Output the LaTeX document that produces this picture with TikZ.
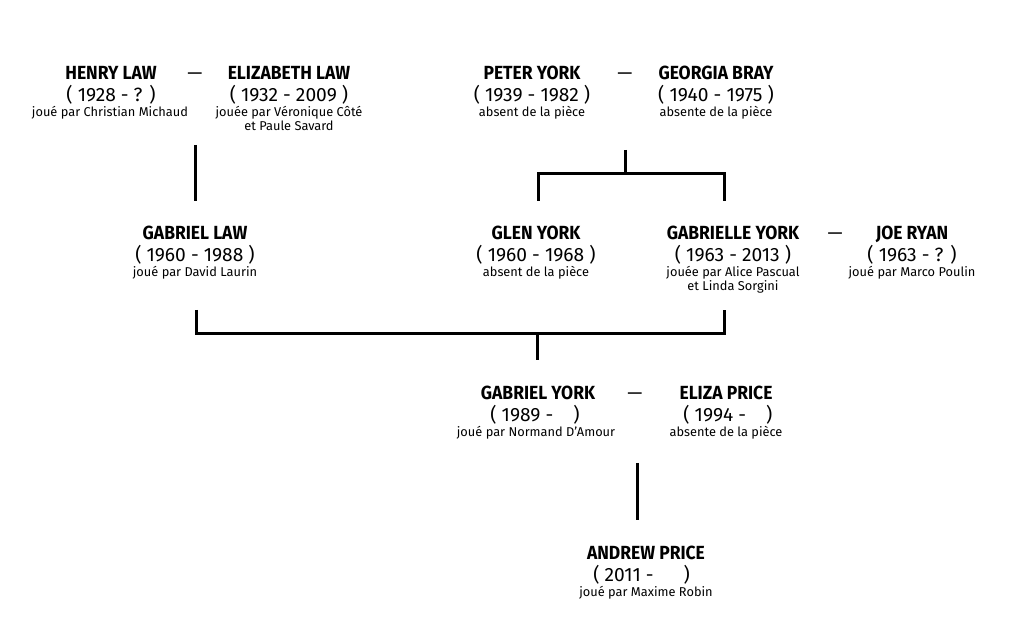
\documentclass[tikz,border=0pt]{standalone}
\usepackage{fontspec}
\setmainfont{Fira Sans}
\newfontfamily\namefont{Fira Sans}[FakeStretch=0.92,UprightFont=* Bold]
\begin{document}
\begin{tikzpicture}[x=0.5pt,y=-0.5pt,
  pname/.style={anchor=base,font=\namefont\fontsize{9.5}{10}\selectfont,inner sep=0pt},
  pyear/.style={anchor=base,font=\fontsize{9.6}{10}\selectfont,inner sep=0pt},
  prole/.style={anchor=base,font=\fontsize{6.4}{7.2}\selectfont,inner sep=0pt,align=center},
  pdash/.style={anchor=base,font=\fontsize{9.5}{10}\selectfont,inner sep=0pt},
  link/.style={line width=1.5pt,line cap=butt}]
\fill[white] (0,0) rectangle (1024,640);
% row 1
\node[pname] (henry) at (111,80) {HENRY LAW};
\node[pyear] (henryy) at (111,102) {( 1928 - ? )};
\node[prole] (henryr) at (110,117) {joué par Christian Michaud};
\node[pdash] (d1) at (195,80) {—};
\node[pname] (eliz) at (289,80) {ELIZABETH LAW};
\node[pyear] (elizy) at (289,102) {( 1932 - 2009 )};
\node[prole] (elizr) at (289,117) {jouée par Véronique Côté};
\node[prole] (elizr2) at (289,131) {et Paule Savard};
\node[pname] (peter) at (532,80) {PETER YORK};
\node[pyear] (petery) at (532,102) {( 1939 - 1982 )};
\node[prole] (peterr) at (532,117) {absent de la pièce};
\node[pdash] (d2) at (625,80) {—};
\node[pname] (georgia) at (716,80) {GEORGIA BRAY};
\node[pyear] (georgiay) at (716,102) {( 1940 - 1975 )};
\node[prole] (georgiar) at (716,117) {absente de la pièce};
% row 2
\node[pname] (glaw) at (195,240) {GABRIEL LAW};
\node[pyear] (glawy) at (195,262) {( 1960 - 1988 )};
\node[prole] (glawr) at (195,277) {joué par David Laurin};
\node[pname] (glen) at (536,240) {GLEN YORK};
\node[pyear] (gleny) at (536,262) {( 1960 - 1968 )};
\node[prole] (glenr) at (536,277) {absent de la pièce};
\node[pname] (gyork) at (733,240) {GABRIELLE YORK};
\node[pyear] (gyorky) at (733,262) {( 1963 - 2013 )};
\node[prole] (gyorkr) at (733,277) {jouée par Alice Pascual};
\node[prole] (gyorkr2) at (733,291) {et Linda Sorgini};
\node[pdash] (d3) at (835,240) {—};
\node[pname] (joe) at (912,240) {JOE RYAN};
\node[pyear] (joey) at (912,262) {( 1963 - ? )};
\node[prole] (joer) at (912,277) {joué par Marco Poulin};
% row 3
\node[pname] (gabyork) at (538,400) {GABRIEL YORK};
\node[pyear,anchor=base west] (gabyorky) at (490,422) {( 1989 -\hspace{10pt})};
\node[prole] (gabyorkr) at (536,437) {joué par Normand D’Amour};
\node[pdash] (d4) at (635,400) {—};
\node[pname] (eliza) at (726,400) {ELIZA PRICE};
\node[pyear,anchor=base west] (elizay) at (683,422) {( 1994 -\hspace{10pt})};
\node[prole] (elizar) at (726,437) {absente de la pièce};
% row 4
\node[pname] (andrew) at (646,560) {ANDREW PRICE};
\node[pyear,anchor=base west] (andrewy) at (593,582) {( 2011 -\hspace{15pt})};
\node[prole] (andrewr) at (646,597) {joué par Maxime Robin};
% connectors
\coordinate (c1a) at (195,145); \coordinate (c1b) at (195,201);
\draw[link] (c1a) -- (c1b);
\coordinate (c2a) at (625,150); \coordinate (c2b) at (625,174);
\coordinate (c2l) at (538,201); \coordinate (c2r) at (724,201);
\draw[link] (c2a) -- (c2b);
\draw[link] (c2l) |- (c2b) -| (c2r);
\coordinate (c3l) at (196,310); \coordinate (c3r) at (724,310);
\coordinate (c3m) at (537,334); \coordinate (c3b) at (537,360);
\draw[link] (c3l) |- (c3m) -| (c3r);
\draw[link] (c3m) -- (c3b);
\coordinate (c4a) at (637,463); \coordinate (c4b) at (637,520);
\draw[link] (c4a) -- (c4b);
\end{tikzpicture}
\end{document}
